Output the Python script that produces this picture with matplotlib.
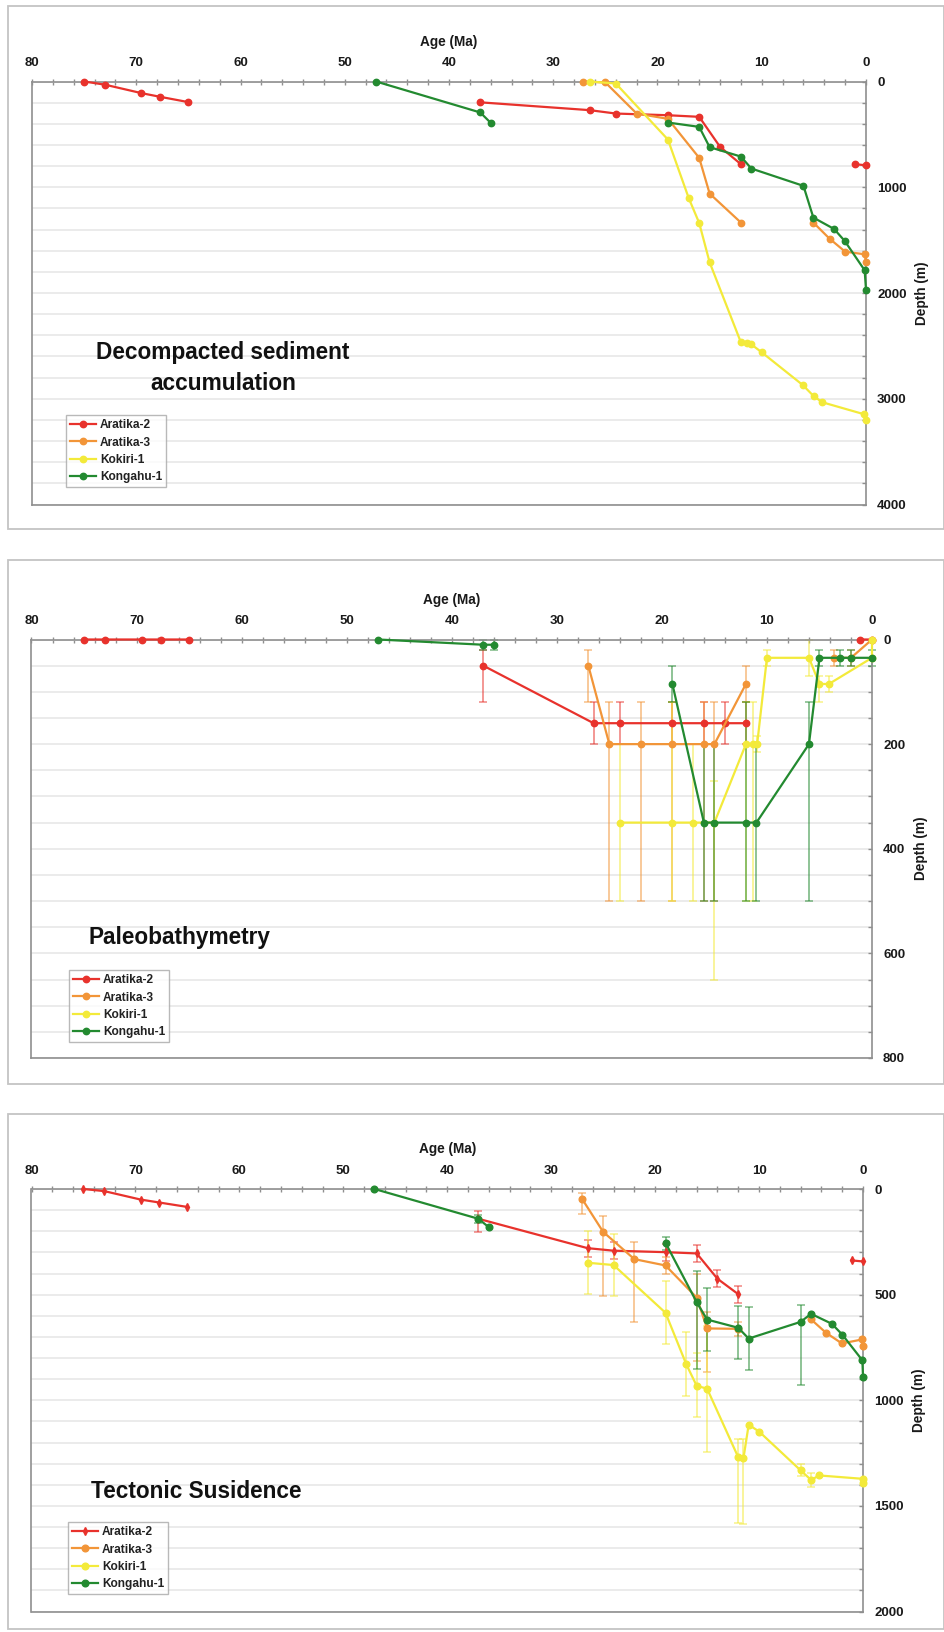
import numpy as np
import matplotlib
matplotlib.use("Agg")
import matplotlib.pyplot as plt
from matplotlib.patches import Rectangle

nan = np.nan
plt.rcParams['font.family'] = ['Liberation Sans', 'DejaVu Sans']

series_names = ["Aratika-2", "Aratika-3", "Kokiri-1", "Kongahu-1"]
colors = ["#e8322c", "#f29538", "#f3ea3a", "#238a30"]

# ---------------- Panel 1: Decompacted sediment accumulation ----------------
p1_a2_age = [75, 73, 69.5, 67.7, 65, nan, 37, 26.5, 24, 19, 16, 14, 12, nan, 1.1, 0]
p1_a2_dep = [0, 30, 110, 145, 195, nan, 197, 271, 303, 319, 334, 618, 782, nan, 782, 792]
p1_a3_age = [27.1, 25, 22, 19, 16, 15, 12, nan, 5.05, 3.5, 2.0, 0.13, 0]
p1_a3_dep = [0, 9, 303, 353, 722, 1060, 1334, nan, 1334, 1486, 1609, 1634, 1710]
p1_k1_age = [26.5, 24, 19, 17, 16, 15, 12, 11.4, 11, 10, 6.07, 5.03, 4.2, 0.17, 0]
p1_k1_dep = [0, 19, 549, 1104, 1338, 1710, 2467, 2476, 2486, 2561, 2870, 2974, 3033, 3147, 3202]
p1_kg_age = [47, 37, 36, nan, 19, 16, 15, 12, 11, 6, 5.05, 3.07, 2.04, 0.13, 0]
p1_kg_dep = [0, 293, 391, nan, 388, 429, 621, 710, 823, 987, 1287, 1394, 1508, 1785, 1968]

# ---------------- Panel 2: Paleobathymetry (value, shallow bound, deep bound) ----------------
p2_a2_age = [75, 73, 69.5, 67.7, 65, nan, 37, 26.5, 24, 19, 16, 14, 12, nan, 1.1, 0]
p2_a2_dep = [0, 0, 0, 0, 0, nan, 50, 160, 160, 160, 160, 160, 160, nan, 0, 0]
p2_a2_lo = [0, 0, 0, 0, 0, nan, 20, 120, 120, 120, 120, 120, 120, nan, 0, 0]
p2_a2_hi = [0, 0, 0, 0, 0, nan, 120, 200, 200, 200, 200, 200, 200, nan, 0, 0]
p2_a3_age = [27, 25, 22, 19, 16, 15, 12, nan, 3.6, 2.0, 0]
p2_a3_dep = [50, 200, 200, 200, 200, 200, 85, nan, 35, 35, 0]
p2_a3_lo = [20, 120, 120, 120, 120, 120, 50, nan, 20, 20, 0]
p2_a3_hi = [120, 500, 500, 500, 500, 500, 120, nan, 50, 50, 0]
p2_k1_age = [24, 19, 17, 15, 12, 11.35, 10.93, 10, 6, 5, 4.1, 0, 0]
p2_k1_dep = [350, 350, 350, 350, 200, 200, 200, 35, 35, 85, 85, 35, 0]
p2_k1_lo = [200, 120, 200, 270, 120, 120, 185, 20, 0, 70, 70, 35, 0]
p2_k1_hi = [500, 500, 500, 650, 500, 500, 215, 50, 70, 120, 100, 35, 0]
p2_kg_age = [47, 37, 36, nan, 19, 16, 15, 12, 11, 6, 5, 3, 2, 0]
p2_kg_dep = [0, 10, 10, nan, 85, 350, 350, 350, 350, 200, 35, 35, 35, 35]
p2_kg_lo = [0, 0, 0, nan, 50, 200, 200, 120, 200, 120, 20, 20, 20, 20]
p2_kg_hi = [0, 20, 20, nan, 120, 500, 500, 500, 500, 500, 50, 50, 50, 50]

# ---------------- Panel 3: Tectonic subsidence ----------------
p3_a2_age = [75, 73, 69.5, 67.7, 65, nan, 37, 26.5, 24, 19, 16, 14, 12, nan, 1.1, 0]
p3_a2_dep = [0, 10, 50, 64, 85, nan, 141, 280, 292, 299, 305, 425, 498, nan, 338, 343]
p3_a2_lo = [0, 10, 50, 64, 85, nan, 106, 240, 252, 259, 265, 385, 458, nan, 338, 343]
p3_a2_hi = [0, 10, 50, 64, 85, nan, 205, 320, 332, 339, 345, 465, 538, nan, 338, 343]
p3_a3_age = [27, 25, 22, 19, 16, 15, 12, nan, 5.05, 3.55, 2.03, 0.06, 0]
p3_a3_dep = [49, 203, 332, 362, 514, 660, 662, nan, 615, 681, 731, 712, 742]
p3_a3_lo = [20, 126, 253, 320, 400, 583, 630, nan, 615, 681, 731, 712, 742]
p3_a3_hi = [118, 505, 630, 400, 815, 864, 695, nan, 615, 681, 731, 712, 742]
p3_k1_age = [26.5, 24, 19, 17, 16, 15, 12, 11.5, 11, 10, 6, 5, 4.2, 0, 0]
p3_k1_dep = [349, 360, 586, 830, 932, 945, 1270, 1274, 1116, 1148, 1332, 1377, 1356, 1372, 1393]
p3_k1_lo = [197, 211, 437, 678, 775, 650, 1184, 1184, 1116, 1148, 1300, 1345, 1356, 1372, 1393]
p3_k1_hi = [497, 508, 736, 980, 1079, 1245, 1580, 1585, 1116, 1148, 1360, 1410, 1356, 1372, 1393]
p3_kg_age = [47, 37, 36, nan, 19, 16, 15, 12, 11, 6, 5, 3, 2, 0.06, 0]
p3_kg_dep = [0, 141, 181, nan, 255, 536, 618, 657, 708, 629, 591, 638, 689, 811, 888]
p3_kg_lo = [0, 125, 181, nan, 225, 387, 470, 555, 558, 549, 591, 638, 689, 811, 888]
p3_kg_hi = [0, 160, 181, nan, 290, 854, 769, 807, 857, 928, 591, 638, 689, 811, 888]

xticks_major = list(range(0, 81, 10))

W, H = 945, 1632
fig = plt.figure(figsize=(W / 100, H / 100), dpi=100)

def fx(px):
    return px / W

def fy(py):
    return 1 - py / H

# outer frames
for (y0, y1) in [(6, 529), (560, 1084), (1114, 1629)]:
    fig.add_artist(Rectangle((fx(8), fy(y1)), fx(944) - fx(8), fy(y0) - fy(y1),
                             transform=fig.transFigure, fill=False,
                             ec="#c4c4c4", lw=1.3))

def make_ax(left, right, top, bottom, ymax, ymajor, yminor):
    ax = fig.add_axes([fx(left), fy(bottom), fx(right) - fx(left), fy(top) - fy(bottom)])
    ax.set_xlim(80, 0)
    ax.set_ylim(ymax, 0)
    ax.xaxis.tick_top()
    ax.xaxis.set_label_position('top')
    ax.yaxis.tick_right()
    ax.yaxis.set_label_position('right')
    ax.set_xticks(xticks_major)
    ax.set_xticks(np.arange(0, 81, 2), minor=True)
    ax.set_yticks(np.arange(0, ymax + 1, ymajor))
    ax.set_yticks(np.arange(0, ymax + 1, yminor), minor=True)
    ax.yaxis.grid(True, which='both', color='#e9e9e9', lw=1.3)
    ax.set_axisbelow(True)
    for s in ax.spines.values():
        s.set_color('#8f8f8f')
        s.set_linewidth(1.2)
    ax.tick_params(axis='x', which='both', direction='inout', length=4, width=1,
                   color='#8f8f8f', pad=7, labelsize=9.5, labelcolor='#1a1a1a')
    ax.tick_params(axis='y', which='both', direction='in', length=3, width=1,
                   color='#8f8f8f', pad=8, labelsize=9.5, labelcolor='#1a1a1a')
    for lab in ax.get_xticklabels() + ax.get_yticklabels():
        lab.set_fontweight('bold')
    ax.set_xlabel('Age (Ma)', fontsize=9.8, fontweight='bold', labelpad=8, color='#1a1a1a')
    ax.set_ylabel('Depth (m)', fontsize=9.8, fontweight='bold', labelpad=6,
                  rotation=90, color='#1a1a1a')
    return ax

def draw_series(ax, ages, deps, color, marker='o', ms=4.6, lo=None, hi=None, label=None):
    a = np.array(ages, float)
    d = np.array(deps, float)
    if lo is not None:
        l = np.array(lo, float)
        h = np.array(hi, float)
        m = ~np.isnan(a) & ((d - l) + (h - d) > 0)
        eb = ax.errorbar(a[m], d[m], yerr=[(d - l)[m], (h - d)[m]], fmt='none',
                         ecolor=color, alpha=0.55, elinewidth=1.3, capsize=3,
                         capthick=1.2, zorder=2)
        for art in eb.lines[1] + eb.lines[2]:
            art.set_clip_on(False)
    ax.plot(a, d, color=color, lw=1.6, marker=marker, ms=ms, mec=color, mfc=color,
            label=label, zorder=3, clip_on=False)

def add_legend(ax, left, top):
    leg = ax.legend(loc='upper left', bbox_to_anchor=(fx(left), fy(top)),
                    bbox_transform=fig.transFigure, frameon=True, fancybox=False,
                    edgecolor='#a8a8a8', borderpad=0.35, labelspacing=0.45,
                    handlelength=2.2, handletextpad=0.3, borderaxespad=0,
                    prop={'weight': 'bold', 'size': 8.6})
    leg.get_frame().set_linewidth(1.0)
    for t in leg.get_texts():
        t.set_color('#222222')

# Panel 1
ax1 = make_ax(32, 866, 81.5, 504.5, 4000, 1000, 200)
p1 = [(p1_a2_age, p1_a2_dep), (p1_a3_age, p1_a3_dep), (p1_k1_age, p1_k1_dep), (p1_kg_age, p1_kg_dep)]
for (ag, dp), c, n in zip(p1, colors, series_names):
    draw_series(ax1, ag, dp, c, label=n)
add_legend(ax1, 66, 415)
fig.text(fx(223), fy(368), 'Decompacted sediment\naccumulation', ha='center', va='center',
         fontsize=16.3, fontweight='bold', linespacing=1.45, color='#111111')

# Panel 2
ax2 = make_ax(31.5, 872, 639.5, 1058, 800, 200, 50)
p2 = [(p2_a2_age, p2_a2_dep, p2_a2_lo, p2_a2_hi), (p2_a3_age, p2_a3_dep, p2_a3_lo, p2_a3_hi),
      (p2_k1_age, p2_k1_dep, p2_k1_lo, p2_k1_hi), (p2_kg_age, p2_kg_dep, p2_kg_lo, p2_kg_hi)]
for (ag, dp, lo, hi), c, n in zip(p2, colors, series_names):
    draw_series(ax2, ag, dp, c, lo=lo, hi=hi, label=n)
add_legend(ax2, 69, 970)
fig.text(fx(180), fy(938), 'Paleobathymetry', ha='center', va='center',
         fontsize=16.3, fontweight='bold', color='#111111')

# Panel 3
ax3 = make_ax(31.5, 863, 1189, 1611.5, 2000, 500, 100)
p3 = [(p3_a2_age, p3_a2_dep, p3_a2_lo, p3_a2_hi), (p3_a3_age, p3_a3_dep, p3_a3_lo, p3_a3_hi),
      (p3_k1_age, p3_k1_dep, p3_k1_lo, p3_k1_hi), (p3_kg_age, p3_kg_dep, p3_kg_lo, p3_kg_hi)]
markers3 = ['d', 'o', 'o', 'o']
for (ag, dp, lo, hi), c, n, mk in zip(p3, colors, series_names, markers3):
    draw_series(ax3, ag, dp, c, marker=mk, ms=(4.2 if mk == 'd' else 4.8), lo=lo, hi=hi, label=n)
add_legend(ax3, 68, 1522)
fig.text(fx(196), fy(1492), 'Tectonic Susidence', ha='center', va='center',
         fontsize=16.3, fontweight='bold', color='#111111')

fig.savefig('out.png', dpi=100)
